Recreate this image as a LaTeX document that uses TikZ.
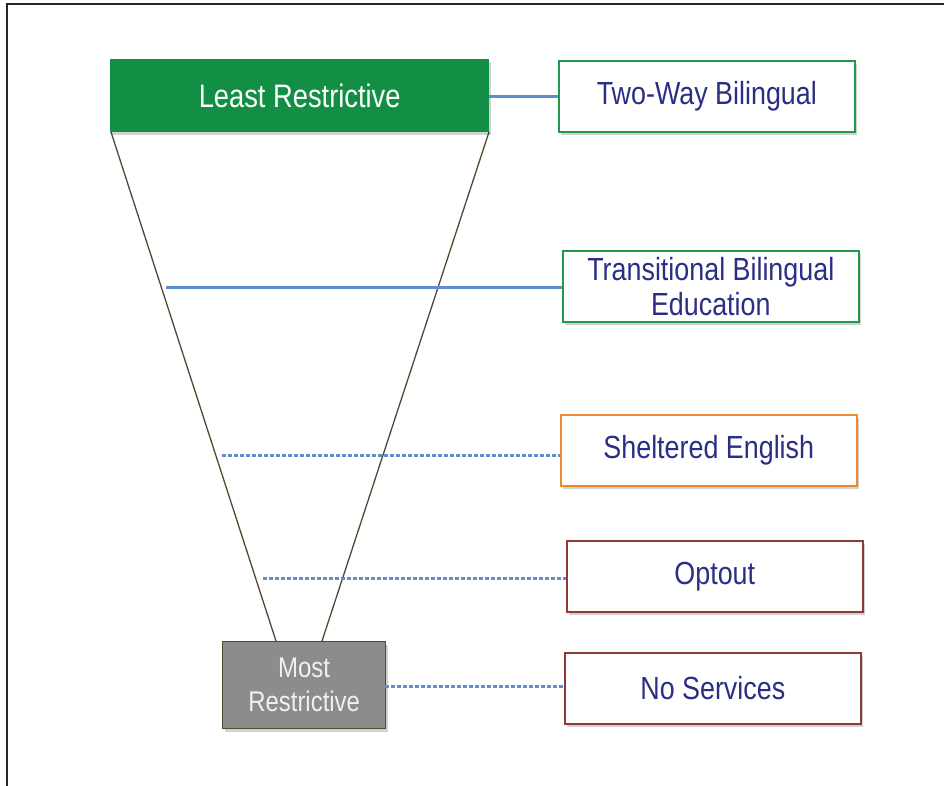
\documentclass[tikz,border=0pt]{standalone}
\usepackage{fontspec}
\setmainfont{Liberation Sans}[FakeStretch=0.84]
\usetikzlibrary{shadows}
\definecolor{lrgreen}{HTML}{138F45}
\definecolor{bxgreen}{HTML}{1E9A4A}
\definecolor{bxorange}{HTML}{EC8A2C}
\definecolor{bxred}{HTML}{8E3A3A}
\definecolor{mrgray}{HTML}{8C8C8C}
\definecolor{olive}{HTML}{4E4A32}
\definecolor{navy}{HTML}{2B2E85}
\definecolor{conn}{HTML}{5E8FCB}
\tikzset{
  shad/.style={drop shadow={shadow xshift=2pt,shadow yshift=-3pt,opacity=0.18,fill=black}},
  optbox/.style={draw=#1,line width=1.6pt,fill=white,minimum width=296pt,minimum height=71pt,inner sep=0pt,align=center,text=navy,font=\fontsize{32}{35}\selectfont,shad},
  solidconn/.style={draw=conn,line width=3pt},
  dotconn/.style={draw=conn,line width=3pt,dash pattern=on 3.5pt off 2.5pt},
  side/.style={draw=olive,line width=1.3pt}
}
\begin{document}
\begin{tikzpicture}[x=1pt,y=-1pt]
\useasboundingbox (0,0) rectangle (944,786);
\draw[black!85,line width=1.8pt] (7,786) -- (7,4) -- (944,4);
% trapezoid sides
\coordinate (tl) at (111,132);
\coordinate (tr) at (489,132);
\coordinate (bl) at (276,641);
\coordinate (br) at (322,641);
\draw[side] (tl) -- (bl);
\draw[side] (tr) -- (br);
% top and bottom boxes
\node[fill=lrgreen,minimum width=379pt,minimum height=73pt,inner sep=0pt,text=white,font=\fontsize{32.5}{35}\selectfont,shad,anchor=north west] (least) at (110,59) {Least Restrictive};
\node[fill=mrgray,draw=olive,line width=1.3pt,minimum width=163pt,minimum height=87pt,inner sep=0pt,align=center,text=white!94!black,font=\fontsize{28.5}{34}\selectfont,shad,anchor=north west] (most) at (222,641) {Most\\Restrictive};
% option boxes
\node[optbox=bxgreen,anchor=north west] (twoway) at (558,60) {Two-Way Bilingual};
\node[optbox=bxgreen,anchor=north west] (trans) at (562,250) {Transitional Bilingual\\Education};
\node[optbox=bxorange,anchor=north west] (shelt) at (560,414) {Sheltered English};
\node[optbox=bxred,anchor=north west] (opt) at (566,540) {Optout};
\node[optbox=bxred,anchor=north west] (nos) at (564,652) {No Services};
% connectors
\coordinate (c1) at (489,97);
\coordinate (c2) at (166,287);
\coordinate (c3) at (222,455);
\coordinate (c4) at (263,578);
\coordinate (c5) at (385,686);
\draw[solidconn] (c1) -- (twoway.west |- c1);
\draw[solidconn] (c2) -- (trans.west |- c2);
\draw[dotconn] (c3) -- (shelt.west |- c3);
\draw[dotconn] (c4) -- (opt.west |- c4);
\draw[dotconn] (c5) -- (nos.west |- c5);
\end{tikzpicture}
\end{document}
